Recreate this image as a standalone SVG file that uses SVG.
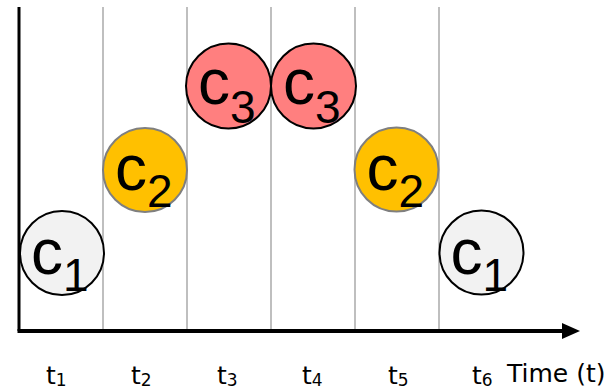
<svg xmlns="http://www.w3.org/2000/svg" width="607" height="389" viewBox="0 0 607 389">
<style>
.grid{stroke:#bfbfbf;stroke-width:2}
.c1{fill:#f2f2f2;stroke:#000;stroke-width:2}
.c2{fill:#ffc000;stroke:#7f7f7f;stroke-width:2}
.c3{fill:#ff7f7f;stroke:#000;stroke-width:2}
.lab{font-family:"Liberation Sans",Arial,sans-serif;font-size:64px;fill:#000}
.sub{font-size:46px}
.tl{font-family:"DejaVu Sans",sans-serif;font-size:25px;fill:#000}
.ts{font-size:17px}
</style>
<defs>
<marker id="arr" markerUnits="userSpaceOnUse" markerWidth="20" markerHeight="18" refX="0" refY="9" orient="auto">
<path d="M0,1 L18,9 L0,17 Z" fill="#000"/>
</marker>
</defs>
<rect width="607" height="389" fill="#fff"/>
<g id="grid">
<line class="grid" x1="103" y1="7" x2="103" y2="331"/>
<line class="grid" x1="187" y1="7" x2="187" y2="331"/>
<line class="grid" x1="271" y1="7" x2="271" y2="331"/>
<line class="grid" x1="355" y1="7" x2="355" y2="331"/>
<line class="grid" x1="439" y1="7" x2="439" y2="331"/>
</g>
<g id="connectors">
<line x1="19" y1="7" x2="19" y2="331" stroke="#000" stroke-width="3"/>
<line x1="17.5" y1="331" x2="562" y2="331" stroke="#000" stroke-width="4" marker-end="url(#arr)"/>
</g>
<g id="node-c1a">
<circle class="c1" cx="62" cy="253" r="42"/>
<text class="lab" x="31" y="274">c<tspan class="sub" y="291">1</tspan></text>
</g>
<g id="node-c2a">
<circle class="c2" cx="145" cy="170" r="42"/>
<text class="lab" x="115" y="190">c<tspan class="sub" y="207">2</tspan></text>
</g>
<g id="node-c3a">
<circle class="c3" cx="228.5" cy="86" r="42.5"/>
<text class="lab" x="198" y="104">c<tspan class="sub" y="123">3</tspan></text>
</g>
<g id="node-c3b">
<circle class="c3" cx="313.5" cy="86" r="42.5"/>
<text class="lab" x="283" y="104">c<tspan class="sub" y="123">3</tspan></text>
</g>
<g id="node-c2b">
<circle class="c2" cx="396.5" cy="169.5" r="42"/>
<text class="lab" x="366.5" y="190">c<tspan class="sub" y="207">2</tspan></text>
</g>
<g id="node-c1b">
<circle class="c1" cx="481.5" cy="252.5" r="42"/>
<text class="lab" x="450.5" y="274">c<tspan class="sub" y="291">1</tspan></text>
</g>
<g id="labels">
<text class="tl" x="46" y="384">t<tspan class="ts" y="386">1</tspan></text>
<text class="tl" x="131" y="384">t<tspan class="ts" y="386">2</tspan></text>
<text class="tl" x="217" y="384">t<tspan class="ts" y="386">3</tspan></text>
<text class="tl" x="302" y="384">t<tspan class="ts" y="386">4</tspan></text>
<text class="tl" x="388" y="384">t<tspan class="ts" y="386">5</tspan></text>
<text class="tl" x="472" y="384">t<tspan class="ts" y="386">6</tspan></text>
<text class="tl" x="507" y="382">Time (t)</text>
</g>
</svg>
